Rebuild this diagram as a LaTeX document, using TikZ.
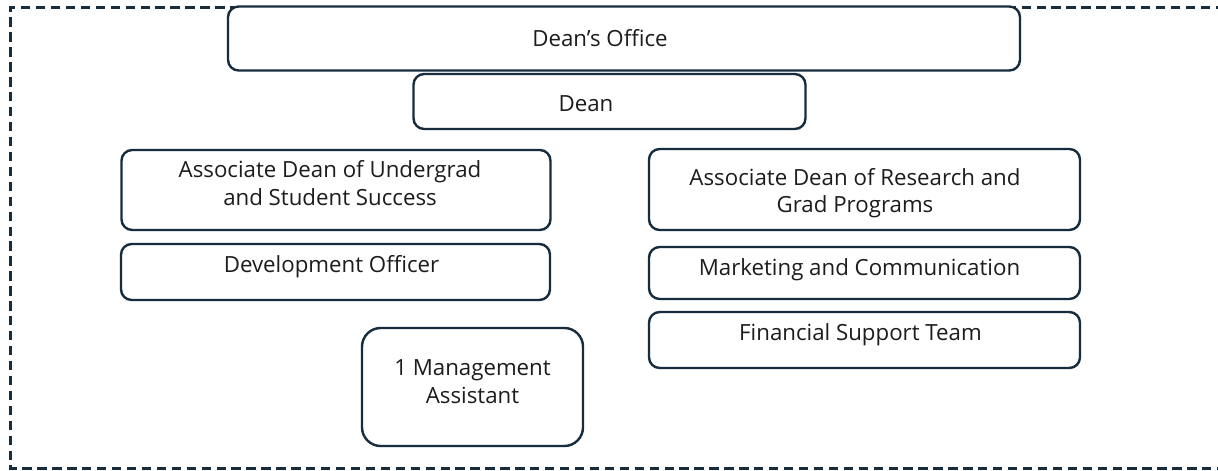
\documentclass[tikz,border=0pt]{standalone}
\usepackage{fontspec}
\setmainfont{Open Sans}
\definecolor{edge}{HTML}{172C3C}
\definecolor{ink}{HTML}{1C1C1C}
\begin{document}
\begin{tikzpicture}[x=0.75pt,y=-0.75pt,
  box/.style={draw=edge, line width=1.8pt, rounded corners=8pt, fill=white, inner sep=0pt},
  lbl/.style={text=ink, font=\fontsize{16.7pt}{20.6pt}\selectfont, align=center, anchor=base, inner sep=0pt},
  frame/.style={draw=edge, line width=1.8pt, dash pattern=on 7pt off 4.2pt}]
\useasboundingbox (0,0) rectangle (1218,471);
\clip (0,0) rectangle (1218,471);
\fill[white] (0,0) rectangle (1218,471);
% dashed outer frame (its right side lies beyond the picture)
\coordinate (ftr) at (1240,7.5);
\coordinate (ftl) at (10.5,7.5);
\coordinate (fbl) at (10.5,468.5);
\coordinate (fbr) at (1240,468.5);
\draw[frame] (ftr) -- (ftl) -- (fbl) -- (fbr);
% boxes
\node[box, minimum width=594pt, minimum height=48pt] (office) at (624,38.5) {};
\node[box, minimum width=294pt, minimum height=41.25pt] (dean) at (609.5,101.5) {};
\node[box, minimum width=321.75pt, minimum height=60pt] (ugrad) at (336,190) {};
\node[box, minimum width=323.25pt, minimum height=60.75pt] (research) at (864.5,189.5) {};
\node[box, minimum width=321.75pt, minimum height=42pt] (dev) at (335.5,272) {};
\node[box, minimum width=323.25pt, minimum height=39pt] (mkt) at (864.5,273) {};
\node[box, minimum width=323.25pt, minimum height=42pt] (fin) at (864.5,340) {};
\node[box, rounded corners=14pt, minimum width=165.75pt, minimum height=88.5pt] (mgmt) at (472.5,387) {};
% labels (base = baseline of the last line)
\node[lbl] (officeT) at (600,46) {Dean’s Office};
\node[lbl] (deanT) at (586,111) {Dean};
\node[lbl] (ugradT) at (330,205) {Associate Dean of Undergrad\\and Student Success};
\node[lbl] (researchT) at (855,212.7) {Associate Dean of Research and\\Grad Programs};
\node[lbl] (devT) at (331.5,272.7) {Development Officer};
\node[lbl] (mktT) at (859.5,275) {Marketing and Communication};
\node[lbl] (finT) at (860.5,340) {Financial Support Team};
\node[lbl] (mgmtT) at (472.5,403) {1 Management\\Assistant};
\end{tikzpicture}
\end{document}
